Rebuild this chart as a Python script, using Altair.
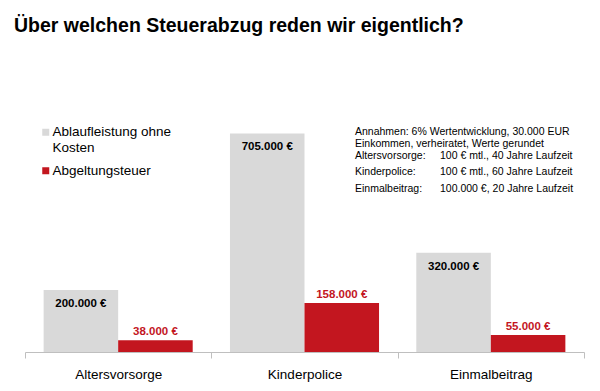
import altair as alt
import pandas as pd

categories = ["Altersvorsorge", "Kinderpolice", "Einmalbeitrag"]
series = ["Ablaufleistung ohne Kosten", "Abgeltungsteuer"]
ablauf = [200000, 705000, 320000]
steuer = [38000, 158000, 55000]
title_text = "Über welchen Steuerabzug reden wir eigentlich?"
note_head = ["Annahmen: 6% Wertentwicklung, 30.000 EUR", "Einkommen, verheiratet,  Werte gerundet"]
note_keys = ["Altersvorsorge:", "Kinderpolice:", "Einmalbeitrag:"]
note_vals = ["100 € mtl., 40 Jahre Laufzeit", "100 € mtl., 60 Jahre Laufzeit", "100.000 €, 20 Jahre Laufzeit"]

GRAY = "#d9d9d9"
RED = "#c3161f"
FONT = "Liberation Sans"

def fmt(v):
    return f"{v:,}".replace(",", ".") + " €"

rows = []
for c, a, s in zip(categories, ablauf, steuer):
    rows.append({"Kategorie": c, "Serie": series[0], "Wert": a, "Label": fmt(a)})
    rows.append({"Kategorie": c, "Serie": series[1], "Wert": s, "Label": fmt(s)})
df = pd.DataFrame(rows)

x = alt.X("Kategorie:N", sort=categories, title=None,
          scale=alt.Scale(paddingInner=0, paddingOuter=0),
          axis=alt.Axis(labelAngle=0, labelFont=FONT, labelFontSize=13.5, labelColor="#000000",
                        domainColor="#bfbfbf", tickColor="#bfbfbf", tickSize=6, labelPadding=9,
                        tickBand="extent", domainWidth=1, tickWidth=1))
xo = alt.XOffset("Serie:N", sort=series, scale=alt.Scale(paddingOuter=0.25, paddingInner=0))
y = alt.Y("Wert:Q", axis=None, scale=alt.Scale(domain=[0, 800000]))

bars = alt.Chart(df).mark_bar().encode(
    x=x, xOffset=xo, y=y,
    color=alt.Color("Serie:N", sort=series,
                    scale=alt.Scale(domain=series, range=[GRAY, RED]),
                    legend=alt.Legend(orient="none", legendX=14, legendY=21.5, title=None,
                                      symbolType="square", symbolSize=49, symbolStrokeWidth=0,
                                      labelFont=FONT, labelFontSize=13.5, labelColor="#000000",
                                      labelBaseline="middle", labelOffset=0, rowPadding=8.5,
                                      labelExpr="datum.label == 'Ablaufleistung ohne Kosten' ? ['Ablaufleistung ohne', 'Kosten'] : datum.label")),
)

gray_lbl = alt.Chart(df[df["Serie"] == series[0]]).mark_text(
    font=FONT, fontSize=11.5, fontWeight="bold", color="#000000", baseline="middle", dy=14
).encode(x=x, xOffset=xo, y=y, text="Label:N")

red_lbl = alt.Chart(df[df["Serie"] == series[1]]).mark_text(
    font=FONT, fontSize=11.5, fontWeight="bold", color=RED, baseline="middle", dy=-8
).encode(x=x, xOffset=xo, y=y, text="Label:N")

notes1 = alt.Chart(pd.DataFrame({"t": ["\n".join(note_head)]})).mark_text(
    font=FONT, fontSize=10.5, align="left", baseline="alphabetic", lineBreak="\n", lineHeight=12.6
).encode(x=alt.value(330), y=alt.value(30.5), text="t:N")

notes2 = alt.Chart(pd.DataFrame({"t": ["\n".join(note_keys)]})).mark_text(
    font=FONT, fontSize=10.5, align="left", baseline="alphabetic", lineBreak="\n", lineHeight=16.7
).encode(x=alt.value(330), y=alt.value(54.8), text="t:N")

notes3 = alt.Chart(pd.DataFrame({"t": ["\n".join(note_vals)]})).mark_text(
    font=FONT, fontSize=10.5, align="left", baseline="alphabetic", lineBreak="\n", lineHeight=16.7
).encode(x=alt.value(415), y=alt.value(54.8), text="t:N")

chart = alt.layer(bars, gray_lbl, red_lbl, notes1, notes2, notes3).properties(
    width=559, height=248,
    autosize=alt.AutoSizeParams(type="none"),
    padding={"left": 17, "top": 96, "right": 8, "bottom": 31},
    title=alt.TitleParams(title_text, anchor="start", frame="group", font=FONT, fontSize=19.5,
                          fontWeight="bold", color="#000000", dx=-11, offset=0, dy=-53,
                          baseline="alphabetic"),
).configure_view(stroke=None)

chart.save("out.html", embed_options={"renderer": "svg", "actions": False})
